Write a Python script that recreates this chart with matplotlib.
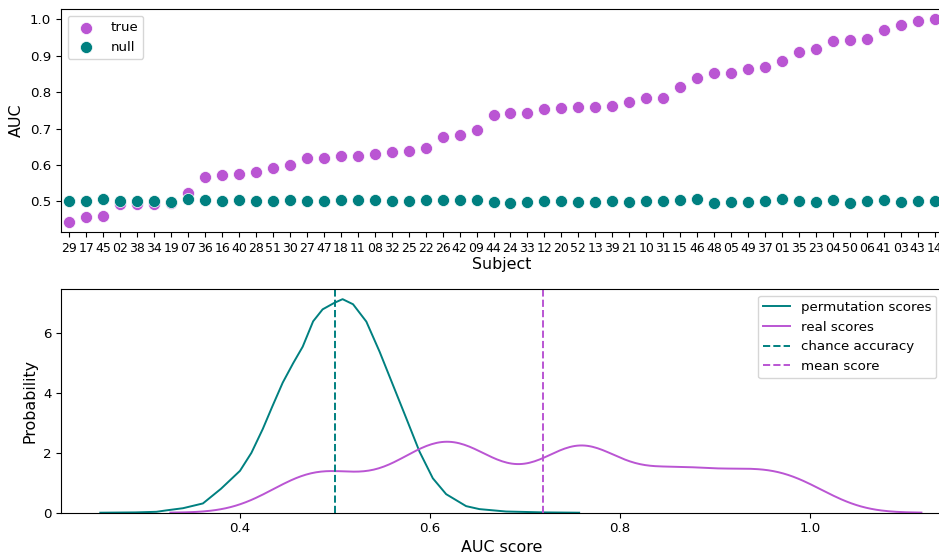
import numpy as np
import matplotlib
matplotlib.use("Agg")
import matplotlib.pyplot as plt

# ---- data ----
subjects = ["29", "17", "45", "02", "38", "34", "19", "07", "36", "16",
            "40", "28", "51", "30", "27", "47", "18", "11", "08", "32",
            "25", "22", "26", "42", "09", "44", "24", "33", "12", "20",
            "52", "13", "39", "21", "10", "31", "15", "46", "48", "05",
            "49", "37", "01", "35", "23", "04", "50", "06", "41", "03",
            "43", "14"]

true_auc = [0.444, 0.456, 0.459, 0.494, 0.494, 0.494, 0.496, 0.524, 0.566, 0.572,
            0.575, 0.581, 0.592, 0.601, 0.620, 0.620, 0.625, 0.625, 0.631, 0.636,
            0.639, 0.646, 0.677, 0.683, 0.695, 0.737, 0.742, 0.743, 0.753, 0.756,
            0.759, 0.760, 0.761, 0.773, 0.784, 0.784, 0.815, 0.839, 0.852, 0.853,
            0.862, 0.868, 0.886, 0.910, 0.918, 0.939, 0.944, 0.946, 0.970, 0.983,
            0.995, 1.000]

null_auc = [0.500, 0.500, 0.506, 0.500, 0.501, 0.501, 0.499, 0.507, 0.503, 0.502,
            0.503, 0.500, 0.500, 0.504, 0.500, 0.502, 0.504, 0.503, 0.503, 0.501,
            0.501, 0.505, 0.503, 0.503, 0.504, 0.498, 0.497, 0.498, 0.500, 0.500,
            0.499, 0.499, 0.500, 0.498, 0.500, 0.500, 0.503, 0.506, 0.496, 0.498,
            0.499, 0.501, 0.506, 0.500, 0.499, 0.503, 0.497, 0.500, 0.503, 0.499,
            0.500, 0.500]

# permutation-score density curve (AUC, density)
perm_x = [0.253, 0.290, 0.312, 0.323, 0.340, 0.361, 0.380, 0.400, 0.412, 0.424,
          0.434, 0.445, 0.456, 0.466, 0.477, 0.487, 0.4995, 0.508, 0.519, 0.533,
          0.547, 0.561, 0.575, 0.589, 0.603, 0.617, 0.638, 0.652, 0.680, 0.720,
          0.757]
perm_density = [0.00, 0.01, 0.03, 0.08, 0.15, 0.31, 0.80, 1.40, 2.00, 2.80,
                3.55, 4.35, 5.00, 5.55, 6.40, 6.80, 7.02, 7.14, 6.97, 6.39,
                5.38, 4.27, 3.16, 2.04, 1.15, 0.62, 0.22, 0.12, 0.04, 0.01,
                0.00]

chance_level = 0.5

# ---- figure ----
W, H = 939, 557
fig = plt.figure(figsize=(W / 100, H / 100), dpi=100)
TICK = 9.6
XTICK_TOP = 9.0
LAB = 11.4
teal = "#008080"
orchid = "#BA55D3"

ax1 = fig.add_axes([61 / W, 1 - 232 / H, (943 - 61) / W, (232 - 9) / H])
xpos = np.arange(len(subjects))
ax1.scatter(xpos, true_auc, s=75, color=orchid, edgecolor="white",
            linewidth=0.5, label="true", zorder=3)
ax1.scatter(xpos, null_auc, s=75, color=teal, edgecolor="white",
            linewidth=0.5, label="null", zorder=3)
ax1.set_xticks(xpos)
ax1.set_xticklabels(subjects, fontsize=XTICK_TOP)
ax1.set_xlim(-0.5, len(subjects) - 0.5)
ax1.set_yticks([0.5, 0.6, 0.7, 0.8, 0.9, 1.0])
ax1.tick_params(axis="y", labelsize=TICK)
ax1.set_xlabel("Subject", fontsize=LAB, labelpad=2)
ax1.set_ylabel("AUC", fontsize=LAB)
ax1.legend(loc="upper left", fontsize=TICK)

# ---- KDE of real scores ----
vals = np.asarray(true_auc)
n = len(vals)
bw = n ** (-1 / 5) * vals.std(ddof=1) * 0.54
grid = np.linspace(vals.min() - 3 * bw, vals.max() + 3 * bw, 300)
dens = np.exp(-0.5 * ((grid[:, None] - vals[None, :]) / bw) ** 2).sum(axis=1)
dens /= n * bw * np.sqrt(2 * np.pi)

ax2 = fig.add_axes([61 / W, 1 - 512.7 / H, (943 - 61) / W, (512.7 - 289) / H])
ax2.plot(perm_x, perm_density, color=teal, lw=1.4, label="permutation scores")
ax2.plot(grid, dens, color=orchid, lw=1.4, label="real scores")
ax2.axvline(chance_level, color=teal, ls="--", lw=1.4, label="chance accuracy")
ax2.axvline(vals.mean(), color=orchid, ls="--", lw=1.4, label="mean score")
ax2.set_xlim(0.2116, 1.14)
ax2.set_ylim(0, 7.48)
ax2.set_xticks([0.4, 0.6, 0.8, 1.0])
ax2.set_yticks([0, 2, 4, 6])
ax2.tick_params(labelsize=TICK)
ax2.set_xlabel("AUC score", fontsize=LAB, labelpad=3)
ax2.set_ylabel("Probability", fontsize=LAB)
ax2.legend(loc="upper right", fontsize=TICK)

fig.savefig("out.png", dpi=100)
